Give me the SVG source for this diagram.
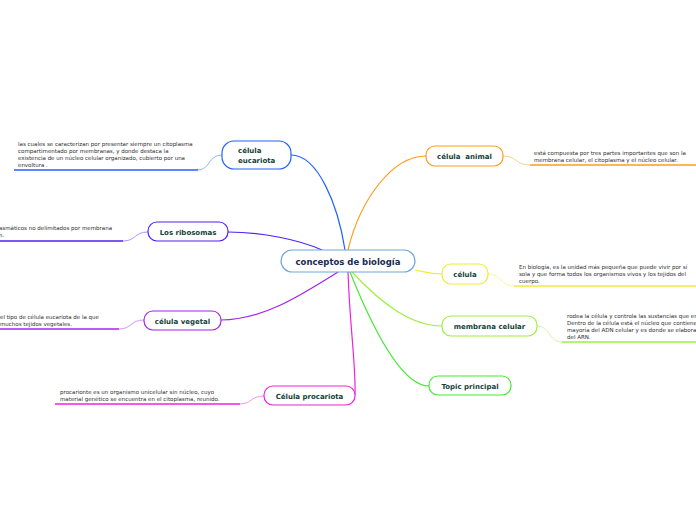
<svg xmlns="http://www.w3.org/2000/svg" width="696" height="520" viewBox="0 0 696 520">
<style>
.node{fill:#fff;stroke-width:1.2}
.lbl{font-family:"DejaVu Sans",Verdana,sans-serif;font-weight:bold;font-size:7px;fill:#123f3a}
.leaf{font-family:"DejaVu Sans",Verdana,sans-serif;font-size:5.5px;fill:#2e2e2e}
.con{fill:none;stroke-width:1.2}
.lc{fill:none;stroke-width:0.8;opacity:0.6}
.ul{fill:none;stroke-width:1.6}
</style>
<rect width="696" height="520" fill="#fff"/>
<g id="connectors">
<path class="con" stroke="#2460ff" d="M345,250 C338,205 318,155 291,155"/>
<path class="con" stroke="#5020ee" d="M322,250 C300,240 262,232 228,232"/>
<path class="con" stroke="#a422ee" d="M338,272 C300,296 262,320 221,320"/>
<path class="con" stroke="#f020e0" d="M348,272 C350,330 356,365 355,395"/>
<path class="con" stroke="#ff9c1a" d="M348,250 C360,200 392,156 426,156"/>
<path class="con" stroke="#eeee30" d="M415,270 C425,272 430,274 442,274"/>
<path class="con" stroke="#9ef03a" d="M352,272 C380,302 410,326 442,326"/>
<path class="con" stroke="#44ea33" d="M350,272 C370,322 400,386 429,386"/>
<path class="lc" stroke="#2460ff" d="M222,155 C208,155 210,170 198,170"/>
<path class="ul" stroke="#2460ff" d="M14,170 H198"/>
<path class="lc" stroke="#5020ee" d="M148,232 C134,232 136,241 123,241"/>
<path class="ul" stroke="#5020ee" d="M0,241 H123"/>
<path class="lc" stroke="#a422ee" d="M144,320 C130,320 132,329 119,329"/>
<path class="ul" stroke="#a422ee" d="M0,329 H119"/>
<path class="lc" stroke="#f020e0" d="M264,396 C250,396 252,404 240,404"/>
<path class="ul" stroke="#f020e0" d="M55,404 H240"/>
<path class="lc" stroke="#ff9c1a" d="M503,156 C517,156 515,165 530,165"/>
<path class="ul" stroke="#ff9c1a" d="M530,165 H696"/>
<path class="lc" stroke="#eeee30" d="M488,274 C502,274 500,286 514,286"/>
<path class="ul" stroke="#eeee30" d="M514,286 H696"/>
<path class="lc" stroke="#9ef03a" d="M537,326 C551,326 548,342 562,342"/>
<path class="ul" stroke="#9ef03a" d="M562,342 H696"/>
</g>
<g id="center">
<rect class="node" x="281" y="250" width="134" height="22" rx="11" stroke="#6aa8dc"/>
<text x="348" y="264.5" text-anchor="middle" font-family="DejaVu Sans,Verdana,sans-serif" font-weight="bold" font-size="8.5" fill="#1a2a50">conceptos de biología</text>
</g>
<g id="n-eucariota">
<rect class="node" x="222" y="141" width="69" height="28" rx="12" stroke="#2460ff"/>
<text class="lbl" x="238" y="152.5">célula</text>
<text class="lbl" x="238" y="163">eucariota</text>
</g>
<g id="n-ribosomas">
<rect class="node" x="148" y="222" width="80" height="19" rx="9" stroke="#5020ee"/>
<text class="lbl" x="188" y="234.5" text-anchor="middle">Los ribosomas</text>
</g>
<g id="n-vegetal">
<rect class="node" x="144" y="311" width="77" height="19" rx="9" stroke="#a422ee"/>
<text class="lbl" x="182.5" y="323.5" text-anchor="middle">célula vegetal</text>
</g>
<g id="n-procariota">
<rect class="node" x="264" y="386" width="91" height="19" rx="9" stroke="#f020e0"/>
<text class="lbl" x="309.5" y="398.5" text-anchor="middle">Célula procariota</text>
</g>
<g id="n-animal">
<rect class="node" x="426" y="146" width="77" height="20" rx="9" stroke="#ff9c1a"/>
<text class="lbl" x="464.5" y="159" text-anchor="middle" xml:space="preserve">célula  animal</text>
</g>
<g id="n-celula">
<rect class="node" x="442" y="264" width="46" height="20" rx="9" stroke="#eeee30"/>
<text class="lbl" x="465" y="276.5" text-anchor="middle">célula</text>
</g>
<g id="n-membrana">
<rect class="node" x="442" y="316" width="95" height="20" rx="9" stroke="#9ef03a"/>
<text class="lbl" x="489.5" y="328.5" text-anchor="middle">membrana celular</text>
</g>
<g id="n-topic">
<rect class="node" x="429" y="376" width="82" height="19" rx="9" stroke="#44ea33"/>
<text class="lbl" x="470" y="388.5" text-anchor="middle">Topic principal</text>
</g>
<g id="leaf-eucariota">
<text class="leaf" x="18" y="146">las cuales se caracterizan por presentar siempre un citoplasma</text>
<text class="leaf" x="18" y="153">compartimentado por membranas, y donde destaca la</text>
<text class="leaf" x="18" y="160">existencia de un núcleo celular organizado, cubierto por una</text>
<text class="leaf" x="18" y="167">envoltura .</text>
</g>
<g id="leaf-ribosomas">
<text class="leaf" x="-1" y="230">asmáticos no delimitados por membrana</text>
<text class="leaf" x="-1" y="237">n.</text>
</g>
<g id="leaf-vegetal">
<text class="leaf" x="0" y="319">el tipo de célula eucariota de la que</text>
<text class="leaf" x="0" y="326">muchos tejidos vegetales.</text>
</g>
<g id="leaf-procariota">
<text class="leaf" x="60" y="394">procarionte es un organismo unicelular sin núcleo, cuyo</text>
<text class="leaf" x="60" y="401">material genético se encuentra en el citoplasma, reunido.</text>
</g>
<g id="leaf-animal">
<text class="leaf" x="534" y="155">está compuesta por tres partes importantes que son la</text>
<text class="leaf" x="534" y="162">membrana celular, el citoplasma y el núcleo celular.</text>
</g>
<g id="leaf-celula">
<text class="leaf" x="519" y="269">En biología, es la unidad más pequeña que puede vivir por sí</text>
<text class="leaf" x="519" y="276">sola y que forma todos los organismos vivos y los tejidos del</text>
<text class="leaf" x="519" y="283">cuerpo.</text>
</g>
<g id="leaf-membrana">
<text class="leaf" x="567" y="318">rodea la célula y controla las sustancias que en</text>
<text class="leaf" x="567" y="325">Dentro de la célula está el núcleo que contiene</text>
<text class="leaf" x="567" y="332">mayoría del ADN celular y es donde se elabora</text>
<text class="leaf" x="567" y="339">del ARN.</text>
</g>
</svg>
